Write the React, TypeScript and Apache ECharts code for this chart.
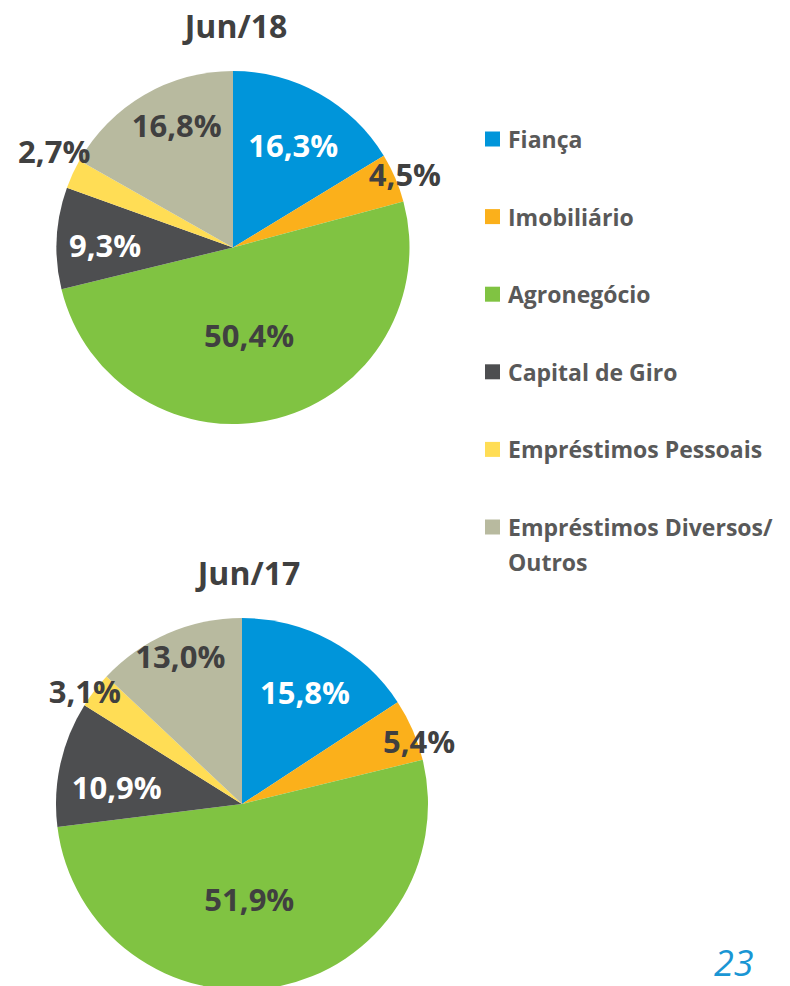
import React, { useEffect, useRef } from 'react';
import * as echarts from 'echarts';

const categories = [
  'Fiança',
  'Imobiliário',
  'Agronegócio',
  'Capital de Giro',
  'Empréstimos Pessoais',
  'Empréstimos Diversos/Outros',
];
const jun18Values = [16.3, 4.5, 50.4, 9.3, 2.7, 16.8];
const jun17Values = [15.8, 5.4, 51.9, 10.9, 3.1, 13.0];
const pieTitles = ['Jun/18', 'Jun/17'];
const pageNumber = '23';

const COLORS = ['#0095DA', '#FBB01B', '#80C342', '#4D4E50', '#FFDD55', '#B8BA9F'];
const LABEL_COLORS = ['#ffffff', '#404040', '#404040', '#ffffff', '#404040', '#404040'];
const FONT = "'Open Sans', 'Noto Sans', sans-serif";

// label placement: [radius factor, angle offset in degrees]
const LABEL_POS_18 = [[0.675, 1], [1.06, 0], [0.505, 4], [0.725, -2], [1.15, 3.6], [0.765, 5.6]];
const LABEL_POS_17 = [[0.69, 1], [1.01, 4], [0.51, 6], [0.68, -4.8], [1.04, -2], [0.86, 0.7]];

const PIE_18 = { cx: 233, cy: 247.5, r: 176.5 };
const PIE_17 = { cx: 242, cy: 804, r: 186 };

function makeLabelLayout(values: number[], pie: { cx: number; cy: number; r: number }, pos: number[][]) {
  const total = values.reduce((a, b) => a + b, 0);
  const mids: number[] = [];
  let acc = 0;
  values.forEach((v) => {
    mids.push(((acc + v / 2) / total) * 360);
    acc += v;
  });
  return (params: any) => {
    const i = params.dataIndex;
    const [k, da] = pos[i];
    const a = ((mids[i] + da) * Math.PI) / 180;
    return {
      x: pie.cx + k * pie.r * Math.sin(a),
      y: pie.cy - k * pie.r * Math.cos(a),
      align: 'center',
      verticalAlign: 'middle',
    };
  };
}

function makeSeries(values: number[], pie: { cx: number; cy: number; r: number }, pos: number[][]) {
  return {
    type: 'pie',
    center: [pie.cx, pie.cy],
    radius: [0, pie.r],
    startAngle: 90,
    clockwise: true,
    avoidLabelOverlap: false,
    silent: true,
    itemStyle: { borderWidth: 0 },
    label: {
      show: true,
      position: 'inside',
      fontFamily: FONT,
      fontWeight: 'bold',
      fontSize: 31,
      formatter: (p: any) => p.value.toFixed(1).replace('.', ',') + '%',
    },
    labelLine: { show: false },
    labelLayout: makeLabelLayout(values, pie, pos),
    data: values.map((v, i) => ({
      name: categories[i],
      value: v,
      itemStyle: { color: COLORS[i] },
      label: { color: LABEL_COLORS[i] },
    })),
  };
}

export default function App() {
  const ref = useRef<HTMLDivElement>(null);
  useEffect(() => {
    if (!ref.current) return;
    const chart = echarts.init(ref.current, null, { renderer: 'svg' });
    const lastName = categories[categories.length - 1];
    const slash = lastName.indexOf('/');
    const lastFirstLine = lastName.slice(0, slash + 1);
    const lastSecondLine = lastName.slice(slash + 1);
    chart.setOption({
      animation: false,
      backgroundColor: '#ffffff',
      legend: {
        orient: 'vertical',
        left: 485,
        top: 127,
        padding: 0,
        itemWidth: 15,
        itemHeight: 15,
        itemGap: 53.6,
        icon: 'rect',
        selectedMode: false,
        data: categories,
        formatter: (name: string) => (name === lastName ? lastFirstLine : name),
        textStyle: {
          fontFamily: FONT,
          fontWeight: 'bold',
          fontSize: 23,
          color: '#595959',
          lineHeight: 24,
          padding: [0, 0, 0, 3],
        },
      },
      graphic: [
        {
          type: 'text',
          x: 236,
          y: 25,
          style: {
            text: pieTitles[0],
            font: `bold 32px ${FONT}`,
            fill: '#404040',
            align: 'center',
            verticalAlign: 'middle',
          },
        },
        {
          type: 'text',
          x: 249,
          y: 572,
          style: {
            text: pieTitles[1],
            font: `bold 32px ${FONT}`,
            fill: '#404040',
            align: 'center',
            verticalAlign: 'middle',
          },
        },
        {
          type: 'text',
          x: 508,
          y: 562,
          style: {
            text: lastSecondLine,
            font: `bold 23px ${FONT}`,
            fill: '#595959',
            align: 'left',
            verticalAlign: 'middle',
          },
        },
        {
          type: 'text',
          x: 714,
          y: 962,
          style: {
            text: pageNumber,
            font: `italic 36px ${FONT}`,
            fill: '#1A96D4',
            align: 'left',
            verticalAlign: 'middle',
          },
        },
      ],
      series: [
        makeSeries(jun18Values, PIE_18, LABEL_POS_18),
        makeSeries(jun17Values, PIE_17, LABEL_POS_17),
      ],
    });
    return () => chart.dispose();
  }, []);
  return (
    <div
      ref={ref}
      style={{ position: 'absolute', left: 0, top: 0, width: 790, height: 986 }}
    />
  );
}
